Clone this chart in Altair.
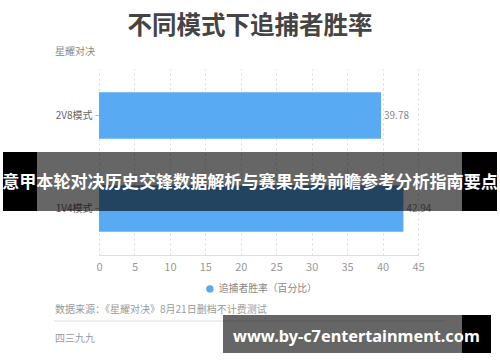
import altair as alt
import pandas as pd

FONT = "Noto Sans CJK SC"

modes = ["2V8模式", "1V4模式"]
values = [39.78, 42.94]
series_name = "追捕者胜率（百分比）"
x_ticks = [0, 5, 10, 15, 20, 25, 30, 35, 40, 45]

title_text = "不同模式下追捕者胜率"
subtitle_text = "星耀对决"
source_text = "数据来源：《星耀对决》8月21日删档不计费测试"
footer_text = "四三九九"
banner_text = "意甲本轮对决历史交锋数据解析与赛果走势前瞻参考分析指南要点"
url_text = "www.by-c7entertainment.com"

df = pd.DataFrame({"mode": modes, "value": values, "series": [series_name] * len(modes)})

x_enc = alt.X(
    "value:Q",
    scale=alt.Scale(domain=[0, 45], nice=False),
    axis=alt.Axis(
        values=x_ticks, title=None, grid=True, gridDash=[2, 3], gridColor="#d8d8d8",
        domainColor="#dddddd", ticks=False, labelColor="#999999", labelFontSize=11,
        labelPadding=6, labelFont=FONT, labelOverlap=False, labelBound=False,
        labelFlush=False,
    ),
)
y_enc = alt.Y(
    "mode:N", sort=modes,
    scale=alt.Scale(paddingInner=0.5, paddingOuter=0.25),
    axis=alt.Axis(
        title=None, domain=False, ticks=True, tickSize=4, tickColor="#bbbbbb",
        labelColor="#666666", labelFontSize=10, labelPadding=3, labelFont=FONT,
    ),
)

base = alt.Chart(df).encode(x=x_enc, y=y_enc)

bars = base.mark_bar(opacity=1).encode(
    color=alt.Color(
        "series:N",
        scale=alt.Scale(range=["#58aaf2"]),
        legend=alt.Legend(
            title=None, orient="none", legendX=106, legendY=215, symbolType="circle",
            symbolSize=55, symbolOpacity=1, labelColor="#888888", labelFontSize=9.8,
            labelFont=FONT, padding=0,
        ),
    ),
)

labels = base.mark_text(
    align="left", baseline="middle", dx=3, fontSize=10, color="#888888", font=FONT
).encode(text=alt.Text("value:Q", format=".2f"))

one = alt.Data(values=[{"k": 1}])


def txt(s, x, y, size, color, weight="normal", align="left", font=FONT):
    return alt.Chart(one).mark_text(
        text=s, align=align, baseline="middle", fontSize=size, color=color,
        fontWeight=weight, font=font,
    ).encode(x=alt.value(x), y=alt.value(y))


def rect(x, x2, y, y2, color, opacity=1.0):
    return alt.Chart(one).mark_rect(color=color, opacity=opacity).encode(
        x=alt.value(x), x2=alt.value(x2), y=alt.value(y), y2=alt.value(y2)
    )


rule = alt.Chart(one).mark_rule(color="#dddddd", strokeWidth=1).encode(
    x=alt.value(-45), x2=alt.value(346), y=alt.value(252)
)

layers = [
    bars, labels,
    txt(title_text, 151, -42, 24.5, "#444444", weight="bold", align="center"),
    txt(subtitle_text, -44, -17, 10, "#888888"),
    txt(source_text, -44, 241, 10, "#999999"),
    rule,
    txt(footer_text, -44, 270, 10, "#999999"),
    rect(-96, -62, 83, 142, "#000000"),
    rect(-62, 363, 83, 142, "#000000", 0.6),
    rect(363, 398, 83, 142, "#000000"),
    txt(banner_text, 151, 114, 17.1, "#ffffff", weight="bold", align="center"),
    rect(124, 363, 246, 284, "#000000", 0.6),
    rect(363, 392, 246, 284, "#000000"),
    txt(url_text, 134, 268, 16.3, "#ffffff", weight="bold", font="Noto Sans"),
]

chart = alt.layer(*layers).properties(
    width=319, height=186,
    autosize=alt.AutoSizeParams(type="none"),
    padding={"left": 99, "top": 69, "right": 82, "bottom": 107},
    background="#ffffff",
).configure_view(stroke=None)

chart.save("out.html", embed_options={"renderer": "svg", "actions": False})
